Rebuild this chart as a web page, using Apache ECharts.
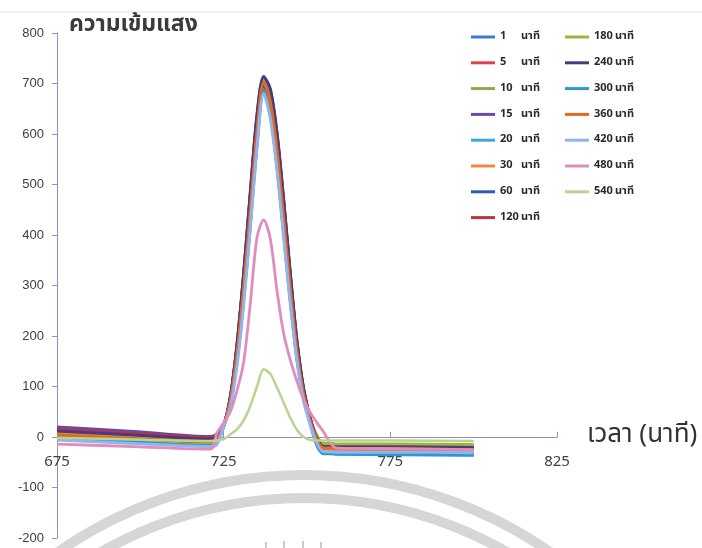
<!DOCTYPE html>
<html>
<head>
<meta charset="utf-8">
<script src="https://cdn.jsdelivr.net/npm/echarts@6/dist/echarts.min.js"></script>
<style>
  html, body { margin: 0; padding: 0; background: #ffffff; }
  #chart { width: 702px; height: 548px; }
</style>
</head>
<body>
<div id="chart"></div>
<script>
// Sample times (x) shared by every run
const xValues = [675, 698, 721, 723, 725, 727, 729, 731, 733, 735, 737, 739, 741, 743, 745, 747, 749, 751, 753, 755, 757, 759, 778, 800];

// Light intensity for each run, one value per sample time
const run1   = [10, 2, -6, -1, 22, 72, 166, 296, 450, 605, 700, 662, 567, 433, 293, 170, 84, 31, -8, -24, -24, -25, -26, -27];
const run5   = [14, 5, -3, 2, 22, 72, 167, 298, 453, 610, 705, 666, 571, 436, 295, 171, 84, 31, -4, -20, -21, -21, -22, -23];
const run10  = [7, -1, -8, -3, 22, 73, 168, 299, 455, 612, 708, 669, 573, 438, 296, 171, 85, 31, -11, -27, -27, -28, -28, -29];
const run15  = [20, 11, 1, 6, 22, 79, 182, 323, 483, 636, 712, 687, 601, 468, 322, 189, 94, 36, -1, -17, -17, -18, -19, -20];
const run20  = [3, -5, -12, -7, 21, 65, 151, 274, 423, 582, 690, 640, 539, 405, 271, 155, 76, 26, -14, -30, -30, -31, -32, -33];
const run30  = [5, -2, -10, -5, 22, 72, 166, 297, 451, 608, 703, 664, 569, 435, 294, 170, 84, 31, -9, -25, -25, -26, -26, -27];
const run60  = [1, -7, -14, -9, 22, 77, 178, 316, 472, 621, 695, 671, 587, 458, 315, 184, 92, 35, -16, -32, -32, -33, -34, -35];
const run120 = [15, 7, -1, 4, 22, 79, 181, 320, 479, 630, 706, 681, 596, 464, 319, 187, 93, 36, 0, -16, -16, -17, -17, -18];
const run180 = [0, -8, -15, -10, 22, 73, 168, 300, 456, 614, 710, 671, 575, 439, 297, 172, 85, 31, 3, -13, -13, -14, -14, -15];
const run240 = [12, 4, -4, 1, 22, 79, 183, 324, 485, 638, 714, 689, 602, 470, 323, 189, 95, 36, -3, -19, -19, -20, -20, -21];
const run300 = [-3, -10, -17, -12, 21, 65, 150, 272, 420, 578, 686, 636, 535, 402, 269, 154, 75, 26, -17, -33, -33, -34, -35, -36];
const run360 = [4, -3, -9, -4, 22, 72, 166, 297, 451, 607, 702, 664, 569, 434, 294, 170, 84, 31, -6, -22, -22, -23, -24, -25];
const run420 = [-6, -13, -19, -14, 21, 60, 141, 262, 415, 573, 680, 631, 529, 396, 263, 150, 71, 24, -13, -29, -29, -30, -30, -31];
const run480 = [-14, -19, -24, 8, 28, 50, 92, 148, 265, 395, 430, 392, 290, 205, 152, 110, 74, 48, 28, 10, -12, -22, -23, -25];
const run540 = [-2, -5, -8, -7, -4, 5, 15, 33, 62, 100, 134, 125, 98, 68, 38, 14, 0, -6, -7, -7, -7, -7, -7, -8];

const seriesNames = ['1 นาที', '5 นาที', '10 นาที', '15 นาที', '20 นาที', '30 นาที', '60 นาที', '120 นาที',
                     '180 นาที', '240 นาที', '300 นาที', '360 นาที', '420 นาที', '480 นาที', '540 นาที'];
const seriesValues = [run1, run5, run10, run15, run20, run30, run60, run120,
                      run180, run240, run300, run360, run420, run480, run540];
const seriesColors = ['#3c78d8', '#e0404c', '#8fa84a', '#6a48a8', '#3ea6e0', '#f5843c', '#2a5cb0', '#b8343e',
                      '#98b838', '#4a3a80', '#2a9ad0', '#e06a20', '#8fb4f0', '#e08cbc', '#b8d490'];
const seriesWidths = [3, 3, 3, 3, 3, 3, 3, 3, 3, 3, 3, 3, 3, 2.8, 2.5];

const xTicks = { min: 675, max: 825, step: 50 };
const yTicks = { min: -200, max: 800, step: 100 };

const thaiFont = '"Noto Sans Thai", "Noto Sans Thai UI", Tahoma, Loma, Garuda, "Liberation Sans", "DejaVu Sans", sans-serif';
const narrowFont = '"Liberation Sans Narrow", "Noto Sans Thai", Tahoma, Loma, "Liberation Sans", sans-serif';
const axisColor = '#8f8fc8';

// Plot area
const gridBox = { left: 57, right: 145, top: 33, bottom: 10 };
const plotHeight = 548 - gridBox.top - gridBox.bottom;
// The time axis sits on the zero line of the intensity axis
const zeroOffset = -plotHeight * (0 - yTicks.min) / (yTicks.max - yTicks.min);

const series = seriesNames.map((name, i) => ({
  name,
  type: 'line',
  data: xValues.map((x, k) => [x, seriesValues[i][k]]),
  showSymbol: false,
  symbol: 'none',
  smooth: 0.3,
  color: seriesColors[i],
  lineStyle: { width: seriesWidths[i], color: seriesColors[i] },
  z: 2 + i
}));

function legendLabel(name) {
  const parts = name.split(' ');
  return '{n|' + parts[0] + '}{u|' + parts[1] + '}';
}

const legendText = {
  color: '#2a2a2a',
  fontSize: 11,
  fontWeight: 'bold',
  fontFamily: narrowFont,
  lineHeight: 14,
  rich: {
    n: { width: 21, fontSize: 11, fontWeight: 'bold', fontFamily: narrowFont, color: '#2a2a2a', lineHeight: 14 },
    u: { fontSize: 11, fontWeight: 'bold', fontFamily: thaiFont, color: '#2a2a2a', lineHeight: 14 }
  }
};

const legendBase = {
  orient: 'vertical',
  icon: 'rect',
  itemWidth: 24,
  itemHeight: 3,
  itemGap: 11.8,
  selectedMode: false,
  formatter: legendLabel,
  textStyle: legendText,
  padding: 0
};

const chart = echarts.init(document.getElementById('chart'), null, { renderer: 'canvas' });

chart.setOption({
  animation: false,
  backgroundColor: '#ffffff',
  title: {
    text: 'ความเข้มแสง',
    left: 69,
    top: 15,
    padding: 0,
    textStyle: { fontSize: 23, fontWeight: 'bold', color: '#3b3b3b', fontFamily: thaiFont }
  },
  legend: [
    Object.assign({}, legendBase, { data: seriesNames.slice(0, 8), left: 471, top: 30 }),
    Object.assign({}, legendBase, { data: seriesNames.slice(8), left: 565, top: 30 })
  ],
  grid: Object.assign({ containLabel: false, outerBoundsMode: 'none' }, gridBox),
  xAxis: {
    type: 'value',
    min: xTicks.min,
    max: xTicks.max,
    interval: xTicks.step,
    position: 'bottom',
    offset: zeroOffset,
    name: 'เวลา (นาที)',
    nameLocation: 'end',
    nameGap: 30,
    nameTextStyle: { fontSize: 26, color: '#333333', fontFamily: thaiFont, align: 'left', verticalAlign: 'middle' },
    axisLine: { onZero: false, lineStyle: { color: axisColor, width: 1 } },
    axisTick: { show: true, inside: true, length: 5, lineStyle: { color: axisColor } },
    axisLabel: { margin: 18, fontSize: 15, color: '#404040', fontFamily: narrowFont },
    splitLine: { show: false }
  },
  yAxis: {
    type: 'value',
    min: yTicks.min,
    max: yTicks.max,
    interval: yTicks.step,
    axisLine: { show: true, onZero: false, lineStyle: { color: axisColor, width: 1 } },
    axisTick: { show: true, length: 5, lineStyle: { color: axisColor } },
    axisLabel: { margin: 13, fontSize: 13, color: '#404040', fontFamily: '"Liberation Sans", Arial, sans-serif' },
    splitLine: { show: false }
  },
  graphic: [
    { type: 'line', silent: true, z: -1, shape: { x1: 0, y1: 12, x2: 702, y2: 12 }, style: { stroke: '#dedeee', lineWidth: 1 } },
    { type: 'arc', silent: true, z: -1, shape: { cx: 304, cy: 906, r: 431, startAngle: -2.25, endAngle: -0.89, clockwise: true },
      style: { stroke: '#d6d6d6', lineWidth: 10, fill: null } },
    { type: 'arc', silent: true, z: -1, shape: { cx: 304, cy: 906, r: 408, startAngle: -2.3, endAngle: -0.84, clockwise: true },
      style: { stroke: '#d6d6d6', lineWidth: 10, fill: null } },
    { type: 'line', silent: true, z: -1, shape: { x1: 266, y1: 542, x2: 266, y2: 548 }, style: { stroke: '#b8b8b8', lineWidth: 1.5 } },
    { type: 'line', silent: true, z: -1, shape: { x1: 284, y1: 541, x2: 284, y2: 548 }, style: { stroke: '#b8b8b8', lineWidth: 1.5 } },
    { type: 'line', silent: true, z: -1, shape: { x1: 303, y1: 541, x2: 303, y2: 548 }, style: { stroke: '#b8b8b8', lineWidth: 1.5 } },
    { type: 'line', silent: true, z: -1, shape: { x1: 321, y1: 542, x2: 321, y2: 548 }, style: { stroke: '#b8b8b8', lineWidth: 1.5 } }
  ],
  series
});
</script>
</body>
</html>
